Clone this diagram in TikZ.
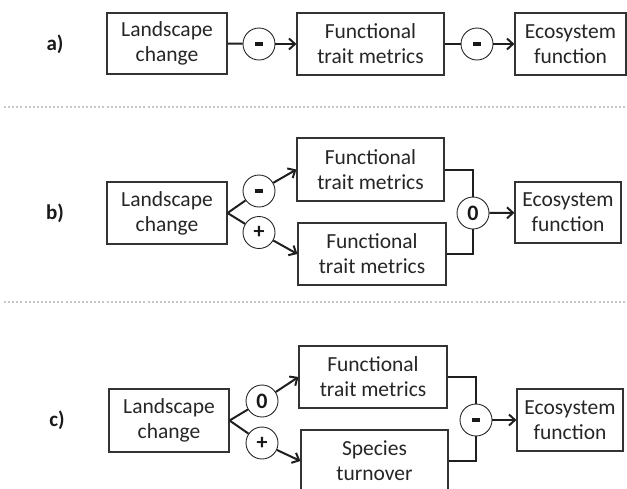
\documentclass[tikz,border=0pt]{standalone}
\usepackage{fontspec}
\setmainfont{Carlito}
\usetikzlibrary{arrows.meta}
\newcommand{\negsign}{\rule[-1.8pt]{8pt}{3.6pt}}
\tikzset{
  box/.style={draw=black!80, line width=1.1pt, text=black!85, align=center, inner sep=0pt,
    font=\fontsize{21.5}{25}\selectfont},
  sgn/.style={circle, draw=black!85, line width=0.9pt, minimum size=32pt, inner sep=0pt,
    font=\fontsize{22}{22}\selectfont\bfseries, text=black!90},
  con/.style={line width=2pt, draw=black!88},
  arr/.style={con, -{Straight Barb[length=6pt,width=11pt,line width=2pt]}},
  lab/.style={font=\fontsize{21}{21}\selectfont\bfseries, text=black!90},
  sep/.style={line width=2pt, draw=black!22, dash pattern=on 2pt off 2.1pt}
}
\begin{document}
\begin{tikzpicture}[x=1pt,y=-1pt]
\useasboundingbox (0,0) rectangle (627,488);
% separators
\coordinate (s1a) at (4,107); \coordinate (s1b) at (627,107);
\coordinate (s2a) at (4,302); \coordinate (s2b) at (627,302);
\draw[sep] (s1a) -- (s1b);
\draw[sep] (s2a) -- (s2b);
% panel a
\node[lab] (la) at (55,44) {a)};
\node[box, minimum width=120pt, minimum height=61pt] (A1) at (167,43.5) {Landscape\\change};
\node[box, minimum width=147pt, minimum height=62pt] (A2) at (370.5,44) {Functional\\trait metrics};
\node[box, minimum width=111pt, minimum height=62pt] (A3) at (570.5,44) {Ecosystem\\function};
\node[sgn] (ca1) at (259,44) {\negsign};
\node[sgn] (ca2) at (477,44) {\negsign};
\draw[con] (A1.east) -- (ca1);
\draw[arr] (ca1) -- (A2);
\draw[con] (A2.east) -- (ca2);
\draw[arr] (ca2) -- (A3);
% panel b
\node[lab] (lb) at (55,213) {b)};
\node[box, minimum width=120pt, minimum height=62pt] (B1) at (167,213) {Landscape\\change};
\node[box, minimum width=147pt, minimum height=63pt] (B2) at (370.5,169.5) {Functional\\trait metrics};
\node[box, minimum width=148pt, minimum height=62pt] (B3) at (372,254) {Functional\\trait metrics};
\node[box, minimum width=106pt, minimum height=61pt] (B4) at (568,212.5) {Ecosystem\\function};
\node[sgn] (cb1) at (259,191) {\negsign};
\node[sgn] (cb2) at (259,232.5) {+};
\node[sgn] (cb0) at (473,213) {0};
\draw[con] (B1.east) -- (cb1);
\draw[arr] (cb1) -- (B2.west);
\draw[con] (B1.east) -- (cb2);
\draw[arr] (cb2) -- (B3.west);
\draw[con] (B2.east) -| (cb0);
\draw[con] (B3.east) -| (cb0);
\draw[arr] (cb0) -- (B4);
% panel c
\node[lab] (lc) at (57,420) {c)};
\node[box, minimum width=120pt, minimum height=63pt] (C1) at (169,420.5) {Landscape\\change};
\node[box, minimum width=148pt, minimum height=62pt] (C2) at (373,377) {Functional\\trait metrics};
\node[box, minimum width=147pt, minimum height=62pt] (C3) at (374.5,461) {Species\\turnover};
\node[box, minimum width=106pt, minimum height=62pt] (C4) at (570,420) {Ecosystem\\function};
\node[sgn] (cc1) at (262,401) {0};
\node[sgn] (cc2) at (262,443) {+};
\node[sgn] (cc0) at (476,420) {\negsign};
\draw[con] (C1.east) -- (cc1);
\draw[arr] (cc1) -- (C2.west);
\draw[con] (C1.east) -- (cc2);
\draw[arr] (cc2) -- (C3.west);
\draw[con] (C2.east) -| (cc0);
\draw[con] (C3.east) -| (cc0);
\draw[arr] (cc0) -- (C4);
\end{tikzpicture}
\end{document}
